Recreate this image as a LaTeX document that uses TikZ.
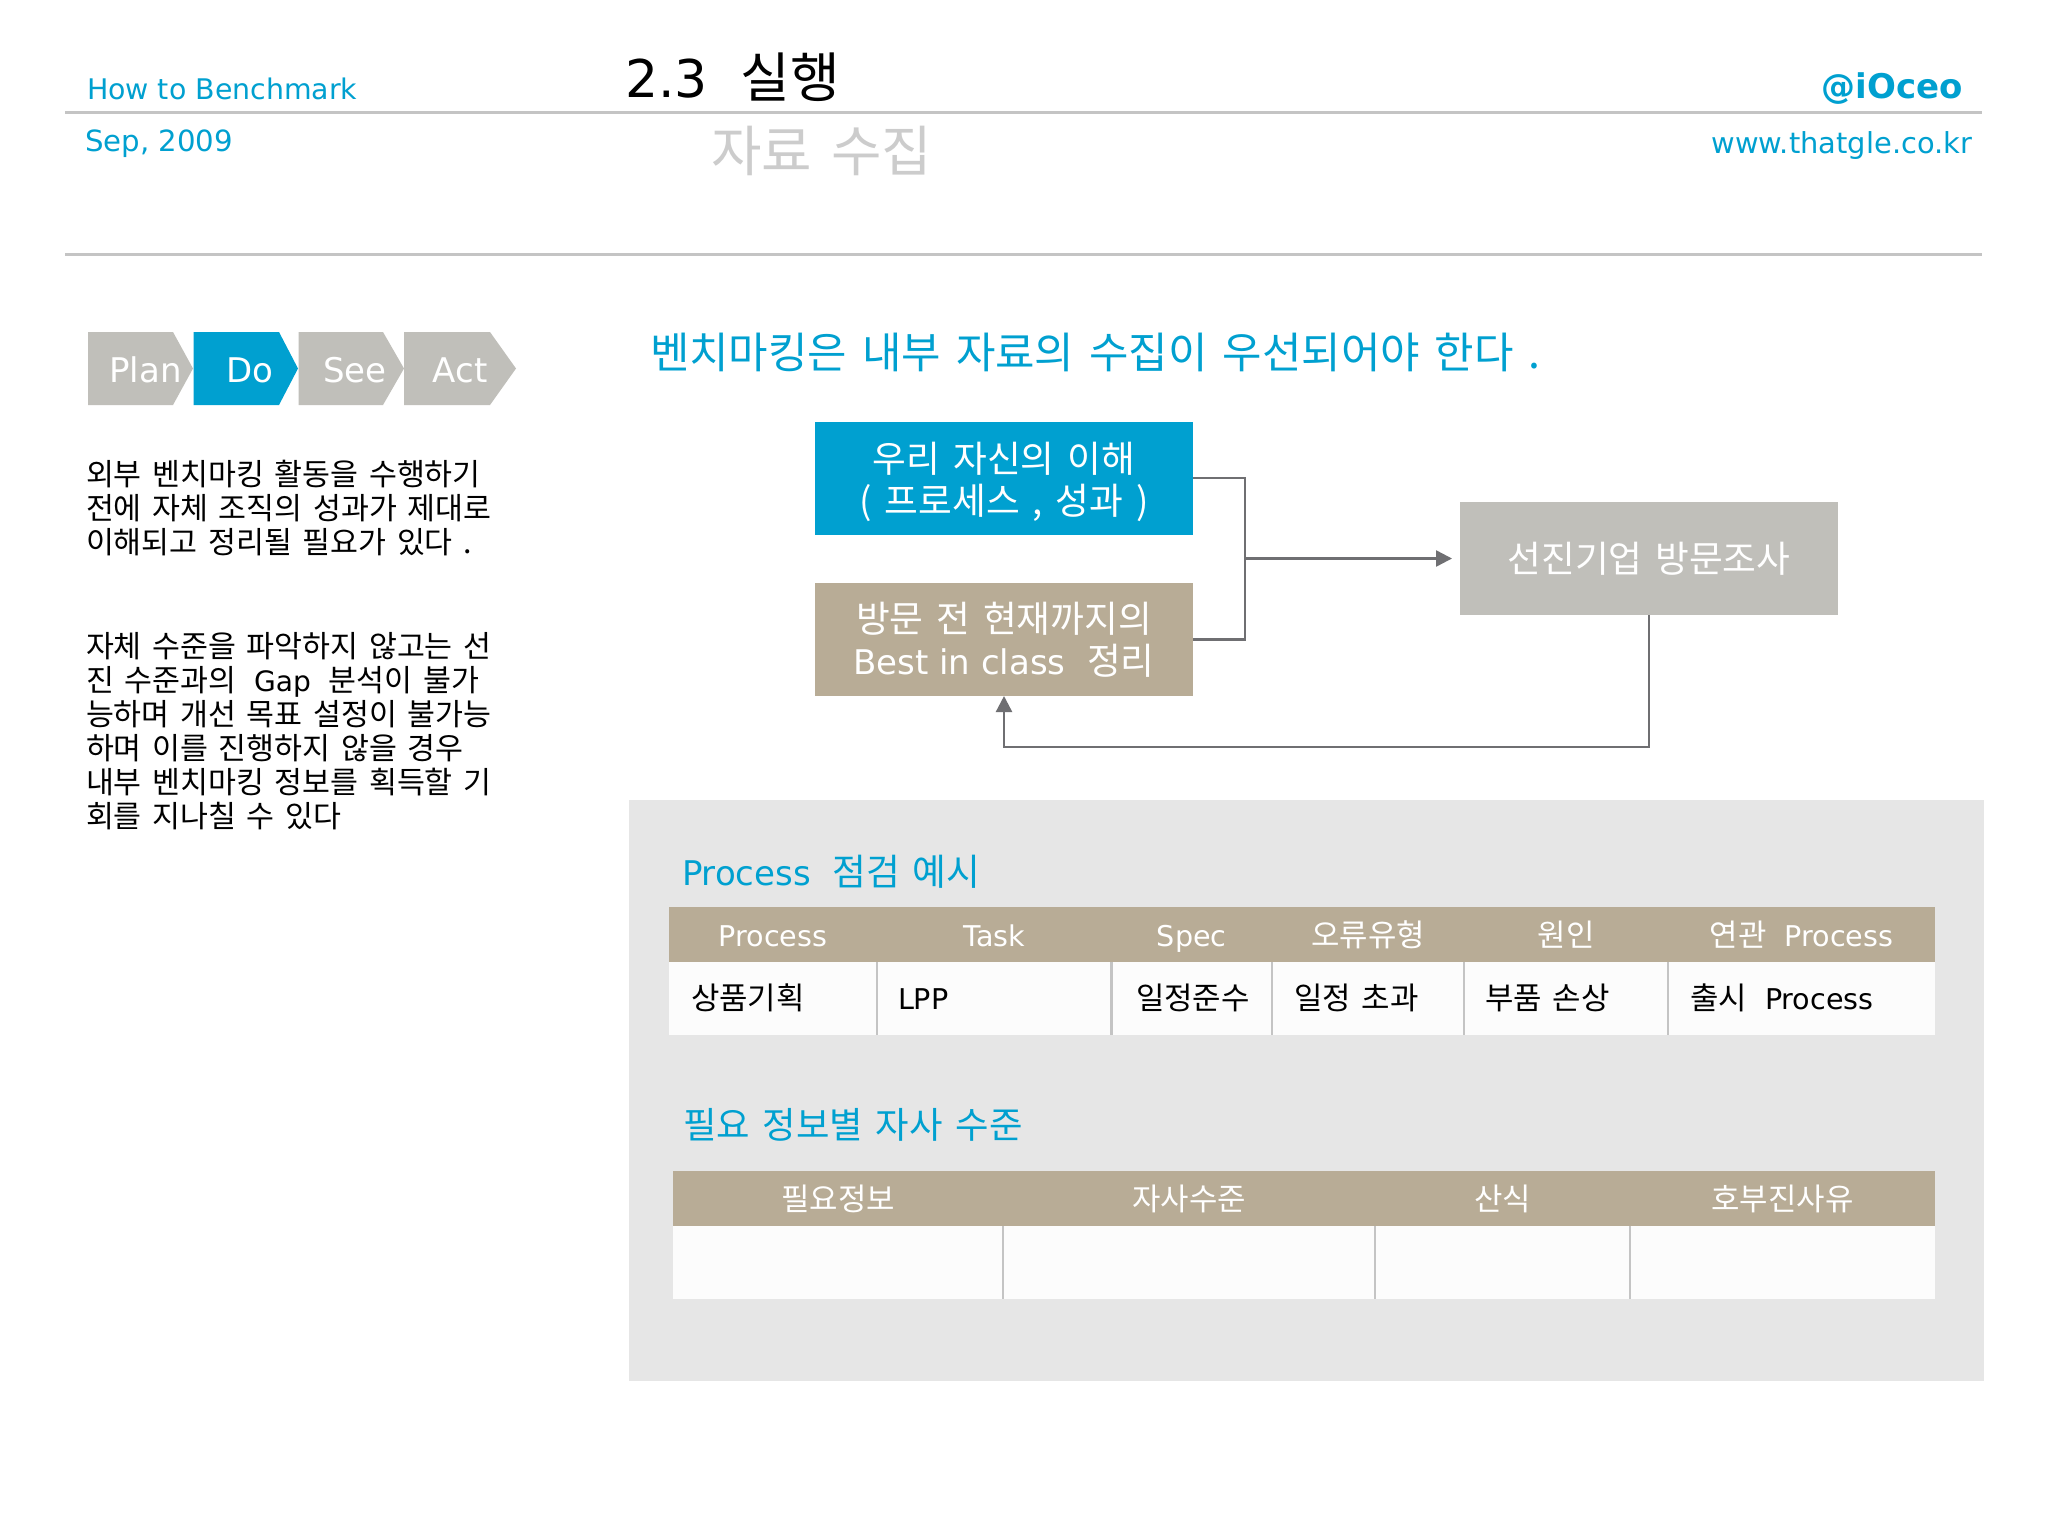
\documentclass[tikz,border=0pt]{standalone}
\usepackage{fontspec}
\usetikzlibrary{arrows.meta}
\setmainfont{DejaVu Sans}
\newfontfamily\krfont{Noto Sans CJK KR}[Scale=1.08,WordSpace=1.56]
\newcommand{\K}[1]{{\krfont #1}}
\newcommand{\FS}[2]{\fontsize{#1}{#2}\selectfont}
\definecolor{cyanb}{HTML}{00A0D0}
\definecolor{tan}{HTML}{B8AC96}
\definecolor{silv}{HTML}{C0BFBA}
\definecolor{rulec}{HTML}{C4C4C4}
\definecolor{panel}{HTML}{E6E6E6}
\definecolor{conn}{HTML}{6F6F72}
\definecolor{cellw}{HTML}{FCFCFC}
\tikzset{
 x=0.5pt,y=-0.5pt,
 lbl/.style={inner sep=0pt,outer sep=0pt},
 box/.style={inner sep=0pt,outer sep=0pt,align=center,text=white,minimum width=189pt,minimum height=56.5pt,font=\FS{17}{21}},
 boxtxt/.style={lbl,align=center,text=white,font=\FS{17}{21}},
 hcell/.style={inner sep=0pt,outer sep=0pt,fill=tan,text=white,font=\FS{14.3}{18},minimum height=27.5pt,text height=14.5pt,text depth=3pt},
 bcell/.style={inner sep=0pt,outer sep=0pt,fill=cellw,minimum height=36.5pt},
 ctext/.style={lbl,anchor=west,font=\FS{14.3}{18},text height=14.5pt,text depth=3pt},
 sep/.style={draw=rulec,line width=1.1pt},
 conline/.style={draw=conn,line width=1.2pt},
 tip/.style={-{Triangle[length=8pt,width=8pt]}},
 bodytxt/.style={lbl,anchor=north west,align=left,font=\krfont\FS{14.05}{17}},
}
\begin{document}
\begin{tikzpicture}
\useasboundingbox (0,0) rectangle (2048,1536);
\fill[white] (0,0) rectangle (2048,1536);
% header
\coordinate (r1a) at (65,112.5); \coordinate (r1b) at (1982,112.5);
\coordinate (r2a) at (65,254.5); \coordinate (r2b) at (1982,254.5);
\draw[rulec,line width=1.2pt] (r1a)--(r1b);
\draw[rulec,line width=1.2pt] (r2a)--(r2b);
\node[lbl,anchor=west,text=cyanb,font=\FS{14.2}{18}] (h1) at (87,88.5) {How to Benchmark};
\node[lbl,anchor=west,text=cyanb,font=\FS{14.6}{18}] (h2) at (85,144) {Sep, 2009};
\node[lbl,anchor=west,font=\FS{26}{30}] (t1) at (625,77) {2.3\ \ {\FS{25}{30}\K{실행}}};
\node[lbl,anchor=west,text=black!20,font=\FS{25.4}{30}] (t2) at (711,151) {\K{자료 수집}};
\node[lbl,anchor=east,text=cyanb,font=\bfseries\FS{17}{20}] (h3) at (1963,88.5) {@iOceo};
\node[lbl,anchor=east,text=cyanb,font=\FS{14.45}{18}] (h4) at (1972,145.5) {www.thatgle.co.kr};
% chevrons
\fill[silv] (88,332)--(173,332)--(193,368.5)--(173,405)--(88,405)--cycle;
\fill[cyanb] (193.5,332)--(279,332)--(298,368.5)--(279,405)--(193.5,405)--cycle;
\fill[silv] (298.5,332)--(383,332)--(404,368.5)--(383,405)--(298.5,405)--cycle;
\fill[silv] (404,332)--(490,332)--(516,368.5)--(490,405)--(404,405)--cycle;
\node[lbl,text=white,font=\FS{17}{20}] (c1) at (145.5,370) {Plan};
\node[lbl,text=white,font=\FS{17}{20}] (c2) at (250,370) {Do};
\node[lbl,text=white,font=\FS{17}{20}] (c3) at (355,370) {See};
\node[lbl,text=white,font=\FS{17}{20}] (c4) at (460,370) {Act};
% left text
\node[bodytxt] (l1) at (86,460) {외부 벤치마킹 활동을 수행하기\\전에 자체 조직의 성과가 제대로\\이해되고 정리될 필요가 있다 .};
\node[bodytxt] (l2) at (86,632) {자체 수준을 파악하지 않고는 선\\진 수준과의{\rmfamily\ \ Gap\ \ }분석이 불가\\능하며 개선 목표 설정이 불가능\\하며 이를 진행하지 않을 경우\\내부 벤치마킹 정보를 획득할 기\\회를 지나칠 수 있다};
% heading
\node[lbl,anchor=west,text=cyanb,font=\krfont\FS{19.85}{25}] (m) at (650,352.5) {벤치마킹은 내부 자료의 수집이 우선되어야 한다 .};
% flow
\node[box,fill=cyanb] (b1) at (1004,478) {};
\node[boxtxt] (b1t) at (1004,482) {\K{우리 자신의 이해}\\\K{( 프로세스 , 성과 )}};
\node[box,fill=tan] (b2) at (1004,639.5) {\K{방문 전 현재까지의}\\Best in class\ \ \K{정리}};
\node[box,fill=silv] (b3) at (1649,558.5) {\K{선진기업 방문조사}};
\coordinate (j) at (1245,558.5);
\coordinate (via) at (1649,747);
\coordinate (via2) at (1004,747);
\draw[conline] (b1.east) -| (j);
\draw[conline] (b2.east) -| (j);
\draw[conline,tip,shorten >=4pt] (j) -- (b3.west);
\draw[conline,tip] (b3.south) -- (via) -- (via2) -- (b2.south);
% panel
\fill[panel] (629,800) rectangle (1984,1381);
\node[lbl,anchor=west,text=cyanb,font=\FS{17}{22}] (p1) at (682,872) {Process\ \ \K{점검 예시}};
\node[lbl,anchor=west,text=cyanb,font=\krfont\FS{16.85}{22}] (p2) at (683,1125) {필요 정보별 자사 수준};
% table 1
\foreach \nm/\xa/\xb/\tx in {a/669/877/Process,b/877/1111.5/Task,c/1111.5/1272/Spec,d/1272/1464/\K{오류유형},e/1464/1668/\K{원인},f/1668/1935/\K{연관}\ \ Process}{
  \pgfmathsetlengthmacro{\w}{(\xb-\xa)*0.5pt}
  \node[hcell,minimum width=\w] (h\nm) at ({(\xa+\xb)/2},934.5) {\tx};
  \node[bcell,minimum width=\w] (r\nm) at ({(\xa+\xb)/2},998.5) {};
}
\foreach \nm/\xp/\tx in {a/691/\K{상품기획},b/898/LPP,c/1136/\K{일정준수},d/1294/\K{일정 초과},e/1485/\K{부품 손상},f/1690/\K{출시}\ \ Process}{
  \node[ctext] (x\nm) at (\xp,998) {\tx};
}
\foreach \nm in {b,c,d,e,f}{ \draw[sep] (r\nm.north west) -- (r\nm.south west); }
% table 2
\foreach \nm/\xa/\xb/\tx in {a/673/1003/\K{필요정보},b/1003/1375/\K{자사수준},c/1375/1630/\K{산식},d/1630/1935/\K{호부진사유}}{
  \pgfmathsetlengthmacro{\w}{(\xb-\xa)*0.5pt}
  \node[hcell,minimum width=\w] (k\nm) at ({(\xa+\xb)/2},1198.5) {\tx};
  \node[bcell,minimum width=\w] (s\nm) at ({(\xa+\xb)/2},1262.5) {};
}
\foreach \nm in {b,c,d}{ \draw[sep] (s\nm.north west) -- (s\nm.south west); }
\end{tikzpicture}
\end{document}
